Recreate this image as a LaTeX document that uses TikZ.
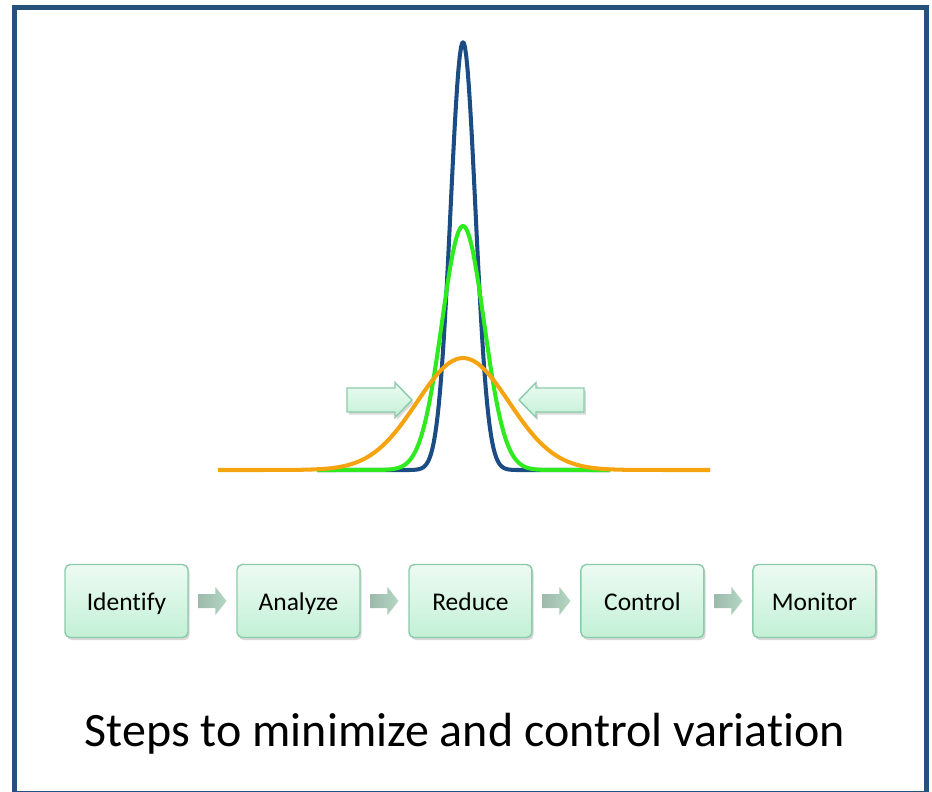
\documentclass[tikz,border=0pt]{standalone}
\usepackage{fontspec}
\setmainfont{Carlito}[Ligatures={NoCommon}]
\usetikzlibrary{positioning}
\usetikzlibrary{shadows,calc}
\usepackage{xcolor}
\definecolor{framebl}{HTML}{24527A}
\definecolor{narrowbl}{HTML}{1B4C84}
\definecolor{midgreen}{HTML}{2EEA1E}
\definecolor{wideorg}{HTML}{F5A30F}
\definecolor{boxtop}{HTML}{EDFBF3}
\definecolor{boxbot}{HTML}{C3F0D6}
\definecolor{boxline}{HTML}{8CCBAA}
\definecolor{arrleft}{HTML}{9DB9AC}
\definecolor{arrright}{HTML}{B5D7C3}

\begin{document}
\begin{tikzpicture}
[x=0.02cm, y=-0.02cm,
node distance=0.952cm,
% The curve style is used to draw the three distributions
curve/.style={line width=2.3pt, line join=round},
% The stepbox style is used to draw the steps' names
stepbox/.style={rectangle, rounded corners=3pt, draw=boxline, line width=0.8pt, top color=boxtop, bottom color=boxbot, minimum width=2.46cm, minimum height=1.46cm, text height=10.3pt, text depth=0pt, font=\fontsize{14.5}{17}\selectfont, drop shadow={opacity=0.3, shadow xshift=1pt, shadow yshift=-1.5pt}},
% The steparrow style is used between two steps
steparrow/.style={left color=arrleft, right color=arrright},
% The squeeze style is used for the two big arrows
squeeze/.style={draw=boxline, line width=0.8pt, top color=boxtop, bottom color=boxbot, drop shadow={opacity=0.3, shadow xshift=1pt, shadow yshift=-1.5pt}}
]
\useasboundingbox (0,0) rectangle (932,791);
% Draw frame
\draw[framebl, line width=0.1cm] (14.5,7.5) rectangle (926.5,793.5);
% Draw distributions
\draw[curve, narrowbl] (317,470) -- plot[domain=405:521, samples=90] (\x, {470-428*exp(-0.5*((\x-463)/12.5)^2)}) -- (610,470);
\draw[curve, midgreen] (317,470) -- plot[domain=380:546, samples=90] (\x, {470-244*exp(-0.5*((\x-463)/21)^2)}) -- (610,470);
\draw[curve, wideorg] (218,470) -- plot[domain=280:646, samples=90] (\x, {470-112*exp(-0.5*((\x-463)/46)^2)}) -- (710,470);
\foreach \tip/\d in {412/1,519/-1}
  \path[squeeze] (\tip,400) -- ++(-17*\d,-17.5) -- ++(0,5.5) -- ++(-48*\d,0) -- ++(0,24) -- ++(48*\d,0) -- ++(0,5.5) -- cycle;
% Draw steps
\node[stepbox] (identify) at (126.5,601) {Identify};
\node[stepbox, right=of identify] (analyze) {Analyze};
\node[stepbox, right=of analyze] (reduce) {Reduce};
\node[stepbox, right=of reduce] (control) {Control};
\node[stepbox, right=of control] (monitor) {Monitor};
\foreach \a/\b in {identify/analyze,analyze/reduce,reduce/control,control/monitor}
  \path[steparrow] ($(\a.east)!0.5!(\b.west)+(-14,-7)$) -- ++(17,0) -- ++(0,-7) -- ++(11,14) -- ++(-11,14) -- ++(0,-7) -- ++(-17,0) -- cycle;
\node[font=\fontsize{27.3}{32}\selectfont, anchor=base] (caption) at (465,746.7) {Steps to minimize and control variation};
\end{tikzpicture}
\end{document}
